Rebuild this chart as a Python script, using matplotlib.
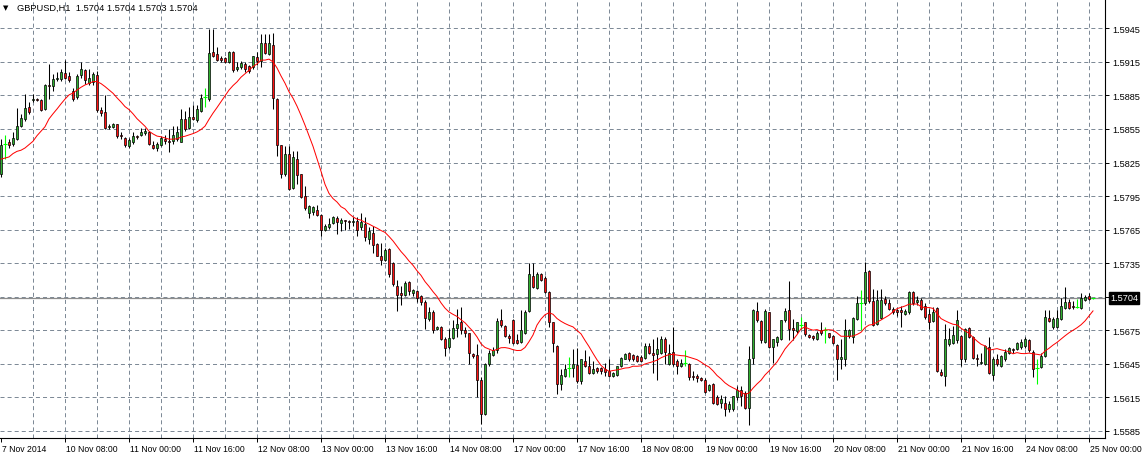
import numpy as np
import pandas as pd
import matplotlib
matplotlib.use('Agg')
import matplotlib.pyplot as plt
import matplotlib.transforms as mtransforms

plt.rcParams['font.family'] = ['Liberation Sans', 'DejaVu Sans']
plt.rcParams['lines.scale_dashes'] = False

# GBPUSD H1, 7 Nov 2014 16:00 .. 25 Nov 2014 01:00
opens = [
    1.5815, 1.5842, 1.5843, 1.5842, 1.5846, 1.5858, 1.5864, 1.5875, 1.5881, 1.5882,
    1.5881, 1.5873, 1.5894, 1.5893, 1.5900, 1.5900, 1.5905, 1.5902, 1.5889, 1.5884,
    1.5903, 1.5908, 1.5896, 1.5897, 1.5903, 1.5872, 1.5870, 1.5857, 1.5857, 1.5859,
    1.5850, 1.5847, 1.5840, 1.5843, 1.5849, 1.5850, 1.5851, 1.5852, 1.5841, 1.5838,
    1.5841, 1.5846, 1.5844, 1.5844, 1.5846, 1.5843, 1.5864, 1.5856, 1.5866, 1.5863,
    1.5871, 1.5884, 1.5882, 1.5924, 1.5922, 1.5918, 1.5918, 1.5915, 1.5924, 1.5909,
    1.5910, 1.5913, 1.5911, 1.5910, 1.5919, 1.5916, 1.5932, 1.5922, 1.5930, 1.5882,
    1.5841, 1.5815, 1.5833, 1.5802, 1.5828, 1.5815, 1.5795, 1.5780, 1.5781, 1.5783,
    1.5778, 1.5765, 1.5767, 1.5771, 1.5775, 1.5771, 1.5774, 1.5773, 1.5772, 1.5773,
    1.5767, 1.5770, 1.5757, 1.5762, 1.5752, 1.5741, 1.5738, 1.5748, 1.5735, 1.5715,
    1.5708, 1.5707, 1.5718, 1.5708, 1.5710, 1.5706, 1.5700, 1.5685, 1.5691, 1.5676,
    1.5678, 1.5667, 1.5660, 1.5668, 1.5677, 1.5682, 1.5675, 1.5673, 1.5654, 1.5653,
    1.5631, 1.5600, 1.5645, 1.5653, 1.5657, 1.5684, 1.5679, 1.5670, 1.5684, 1.5666,
    1.5665, 1.5673, 1.5692, 1.5724, 1.5713, 1.5725, 1.5722, 1.5709, 1.5682, 1.5661,
    1.5627, 1.5634, 1.5641, 1.5641, 1.5644, 1.5630, 1.5648, 1.5643, 1.5637, 1.5641,
    1.5641, 1.5640, 1.5639, 1.5634, 1.5635, 1.5643, 1.5649, 1.5655, 1.5653, 1.5652,
    1.5651, 1.5650, 1.5661, 1.5655, 1.5654, 1.5655, 1.5667, 1.5645, 1.5656, 1.5648,
    1.5643, 1.5646, 1.5645, 1.5634, 1.5634, 1.5632, 1.5631, 1.5622, 1.5627, 1.5615,
    1.5610, 1.5610, 1.5605, 1.5605, 1.5615, 1.5622, 1.5619, 1.5606, 1.5650, 1.5692,
    1.5683, 1.5665, 1.5691, 1.5660, 1.5665, 1.5667, 1.5684, 1.5693, 1.5677, 1.5674,
    1.5680, 1.5682, 1.5671, 1.5670, 1.5667, 1.5675, 1.5675, 1.5673, 1.5670, 1.5662,
    1.5649, 1.5649, 1.5670, 1.5669, 1.5685, 1.5699, 1.5699, 1.5728, 1.5701, 1.5681,
    1.5686, 1.5703, 1.5699, 1.5694, 1.5693, 1.5693, 1.5690, 1.5691, 1.5709, 1.5700,
    1.5702, 1.5697, 1.5690, 1.5683, 1.5695, 1.5638, 1.5634, 1.5663, 1.5664, 1.5666,
    1.5670, 1.5649, 1.5677, 1.5669, 1.5650, 1.5646, 1.5645, 1.5660, 1.5635, 1.5649,
    1.5643, 1.5649, 1.5655, 1.5658, 1.5658, 1.5660, 1.5661, 1.5666, 1.5656, 1.5641,
    1.5642, 1.5652, 1.5686, 1.5678, 1.5678, 1.5685, 1.5695, 1.5700, 1.5697, 1.5696,
    1.5695, 1.5702, 1.5706, 1.5704,
]
highs = [
    1.5846, 1.5850, 1.5846, 1.5852, 1.5874, 1.5868, 1.5886, 1.5879, 1.5886, 1.5883,
    1.5882, 1.5895, 1.5913, 1.5904, 1.5906, 1.5909, 1.5917, 1.5906, 1.5892, 1.5904,
    1.5915, 1.5909, 1.5909, 1.5906, 1.5907, 1.5875, 1.5885, 1.5859, 1.5860, 1.5859,
    1.5852, 1.5848, 1.5847, 1.5852, 1.5850, 1.5856, 1.5856, 1.5853, 1.5844, 1.5843,
    1.5849, 1.5850, 1.5855, 1.5858, 1.5858, 1.5873, 1.5871, 1.5875, 1.5876, 1.5876,
    1.5886, 1.5892, 1.5944, 1.5944, 1.5928, 1.5920, 1.5919, 1.5925, 1.5925, 1.5915,
    1.5916, 1.5915, 1.5912, 1.5920, 1.5924, 1.5940, 1.5940, 1.5940, 1.5941, 1.5883,
    1.5841, 1.5840, 1.5840, 1.5835, 1.5835, 1.5815, 1.5804, 1.5787, 1.5786, 1.5787,
    1.5779, 1.5770, 1.5775, 1.5777, 1.5777, 1.5775, 1.5774, 1.5774, 1.5776, 1.5776,
    1.5780, 1.5776, 1.5767, 1.5768, 1.5753, 1.5753, 1.5749, 1.5749, 1.5736, 1.5720,
    1.5715, 1.5719, 1.5719, 1.5712, 1.5711, 1.5707, 1.5702, 1.5696, 1.5693, 1.5679,
    1.5679, 1.5669, 1.5676, 1.5684, 1.5694, 1.5696, 1.5678, 1.5673, 1.5655, 1.5663,
    1.5633, 1.5646, 1.5657, 1.5660, 1.5686, 1.5694, 1.5680, 1.5672, 1.5685, 1.5672,
    1.5693, 1.5693, 1.5735, 1.5735, 1.5727, 1.5726, 1.5724, 1.5710, 1.5682, 1.5662,
    1.5640, 1.5645, 1.5651, 1.5658, 1.5659, 1.5649, 1.5657, 1.5652, 1.5648, 1.5642,
    1.5642, 1.5646, 1.5649, 1.5638, 1.5643, 1.5651, 1.5655, 1.5656, 1.5654, 1.5653,
    1.5653, 1.5664, 1.5664, 1.5667, 1.5669, 1.5670, 1.5669, 1.5663, 1.5678, 1.5649,
    1.5649, 1.5657, 1.5646, 1.5639, 1.5636, 1.5633, 1.5632, 1.5627, 1.5628, 1.5617,
    1.5617, 1.5616, 1.5612, 1.5616, 1.5625, 1.5625, 1.5621, 1.5661, 1.5694, 1.5700,
    1.5684, 1.5694, 1.5691, 1.5667, 1.5670, 1.5684, 1.5695, 1.5719, 1.5685, 1.5682,
    1.5687, 1.5682, 1.5672, 1.5671, 1.5674, 1.5682, 1.5678, 1.5673, 1.5671, 1.5663,
    1.5667, 1.5685, 1.5676, 1.5687, 1.5706, 1.5711, 1.5736, 1.5729, 1.5712, 1.5711,
    1.5712, 1.5706, 1.5703, 1.5696, 1.5694, 1.5697, 1.5694, 1.5710, 1.5710, 1.5706,
    1.5704, 1.5699, 1.5694, 1.5696, 1.5696, 1.5640, 1.5681, 1.5677, 1.5679, 1.5693,
    1.5671, 1.5677, 1.5678, 1.5670, 1.5654, 1.5655, 1.5662, 1.5669, 1.5651, 1.5654,
    1.5653, 1.5658, 1.5660, 1.5659, 1.5665, 1.5667, 1.5669, 1.5667, 1.5657, 1.5649,
    1.5655, 1.5693, 1.5693, 1.5687, 1.5693, 1.5704, 1.5714, 1.5703, 1.5701, 1.5703,
    1.5708, 1.5707, 1.5708, 1.5704,
]
lows = [
    1.5812, 1.5828, 1.5838, 1.5840, 1.5845, 1.5857, 1.5862, 1.5868, 1.5879, 1.5880,
    1.5871, 1.5872, 1.5882, 1.5889, 1.5898, 1.5898, 1.5900, 1.5897, 1.5880, 1.5882,
    1.5901, 1.5895, 1.5894, 1.5894, 1.5870, 1.5867, 1.5855, 1.5855, 1.5856, 1.5847,
    1.5846, 1.5839, 1.5838, 1.5842, 1.5846, 1.5849, 1.5850, 1.5841, 1.5837, 1.5835,
    1.5840, 1.5842, 1.5834, 1.5842, 1.5844, 1.5843, 1.5853, 1.5855, 1.5863, 1.5861,
    1.5870, 1.5875, 1.5880, 1.5919, 1.5916, 1.5915, 1.5914, 1.5914, 1.5906, 1.5907,
    1.5909, 1.5906, 1.5905, 1.5909, 1.5912, 1.5910, 1.5922, 1.5921, 1.5873, 1.5831,
    1.5811, 1.5813, 1.5800, 1.5801, 1.5806, 1.5793, 1.5783, 1.5775, 1.5778, 1.5777,
    1.5759, 1.5764, 1.5766, 1.5770, 1.5761, 1.5764, 1.5765, 1.5766, 1.5768, 1.5759,
    1.5765, 1.5755, 1.5752, 1.5744, 1.5741, 1.5733, 1.5737, 1.5723, 1.5715, 1.5692,
    1.5698, 1.5706, 1.5707, 1.5706, 1.5700, 1.5698, 1.5676, 1.5683, 1.5673, 1.5675,
    1.5666, 1.5652, 1.5658, 1.5667, 1.5669, 1.5672, 1.5669, 1.5645, 1.5650, 1.5615,
    1.5591, 1.5599, 1.5643, 1.5652, 1.5655, 1.5678, 1.5669, 1.5664, 1.5663, 1.5663,
    1.5664, 1.5672, 1.5691, 1.5713, 1.5712, 1.5719, 1.5708, 1.5678, 1.5656, 1.5618,
    1.5622, 1.5633, 1.5633, 1.5633, 1.5628, 1.5627, 1.5642, 1.5636, 1.5636, 1.5637,
    1.5636, 1.5634, 1.5633, 1.5633, 1.5634, 1.5642, 1.5649, 1.5648, 1.5648, 1.5647,
    1.5647, 1.5649, 1.5654, 1.5637, 1.5631, 1.5654, 1.5645, 1.5644, 1.5643, 1.5636,
    1.5642, 1.5643, 1.5631, 1.5631, 1.5629, 1.5630, 1.5619, 1.5621, 1.5609, 1.5608,
    1.5606, 1.5598, 1.5602, 1.5603, 1.5613, 1.5607, 1.5605, 1.5590, 1.5645, 1.5682,
    1.5664, 1.5664, 1.5659, 1.5646, 1.5661, 1.5666, 1.5682, 1.5666, 1.5666, 1.5673,
    1.5676, 1.5670, 1.5668, 1.5666, 1.5666, 1.5671, 1.5664, 1.5668, 1.5663, 1.5631,
    1.5640, 1.5643, 1.5668, 1.5664, 1.5684, 1.5675, 1.5698, 1.5699, 1.5679, 1.5680,
    1.5685, 1.5698, 1.5693, 1.5690, 1.5688, 1.5678, 1.5689, 1.5690, 1.5698, 1.5698,
    1.5693, 1.5685, 1.5676, 1.5682, 1.5638, 1.5634, 1.5625, 1.5661, 1.5663, 1.5664,
    1.5643, 1.5647, 1.5668, 1.5649, 1.5643, 1.5645, 1.5644, 1.5636, 1.5631, 1.5643,
    1.5642, 1.5648, 1.5654, 1.5655, 1.5657, 1.5658, 1.5659, 1.5656, 1.5633, 1.5627,
    1.5641, 1.5651, 1.5682, 1.5676, 1.5677, 1.5684, 1.5694, 1.5694, 1.5694, 1.5695,
    1.5694, 1.5701, 1.5702, 1.5703,
]
closes = [
    1.5841, 1.5842, 1.5841, 1.5847, 1.5858, 1.5865, 1.5874, 1.5870, 1.5882, 1.5881,
    1.5872, 1.5894, 1.5893, 1.5900, 1.5901, 1.5906, 1.5901, 1.5899, 1.5882, 1.5902,
    1.5909, 1.5899, 1.5901, 1.5904, 1.5872, 1.5869, 1.5856, 1.5858, 1.5859, 1.5849,
    1.5849, 1.5841, 1.5845, 1.5849, 1.5848, 1.5852, 1.5853, 1.5842, 1.5838, 1.5842,
    1.5847, 1.5844, 1.5843, 1.5850, 1.5852, 1.5864, 1.5855, 1.5866, 1.5864, 1.5873,
    1.5883, 1.5884, 1.5923, 1.5920, 1.5917, 1.5917, 1.5915, 1.5924, 1.5908, 1.5910,
    1.5914, 1.5909, 1.5907, 1.5920, 1.5916, 1.5932, 1.5923, 1.5932, 1.5883, 1.5841,
    1.5815, 1.5833, 1.5801, 1.5830, 1.5814, 1.5794, 1.5784, 1.5786, 1.5785, 1.5778,
    1.5765, 1.5768, 1.5770, 1.5776, 1.5772, 1.5774, 1.5773, 1.5772, 1.5773, 1.5765,
    1.5772, 1.5758, 1.5764, 1.5751, 1.5741, 1.5738, 1.5747, 1.5725, 1.5716, 1.5707,
    1.5707, 1.5717, 1.5710, 1.5711, 1.5704, 1.5700, 1.5686, 1.5691, 1.5675, 1.5678,
    1.5667, 1.5659, 1.5668, 1.5677, 1.5681, 1.5675, 1.5673, 1.5655, 1.5652, 1.5631,
    1.5600, 1.5645, 1.5655, 1.5657, 1.5683, 1.5680, 1.5670, 1.5668, 1.5664, 1.5664,
    1.5675, 1.5691, 1.5725, 1.5714, 1.5725, 1.5720, 1.5709, 1.5682, 1.5664, 1.5627,
    1.5635, 1.5640, 1.5641, 1.5645, 1.5630, 1.5649, 1.5643, 1.5637, 1.5640, 1.5639,
    1.5639, 1.5638, 1.5634, 1.5637, 1.5643, 1.5650, 1.5654, 1.5649, 1.5649, 1.5648,
    1.5648, 1.5661, 1.5655, 1.5653, 1.5658, 1.5667, 1.5656, 1.5655, 1.5645, 1.5643,
    1.5646, 1.5646, 1.5633, 1.5633, 1.5632, 1.5631, 1.5620, 1.5626, 1.5610, 1.5609,
    1.5614, 1.5605, 1.5609, 1.5616, 1.5622, 1.5616, 1.5606, 1.5649, 1.5693, 1.5684,
    1.5666, 1.5692, 1.5660, 1.5667, 1.5669, 1.5684, 1.5692, 1.5676, 1.5675, 1.5682,
    1.5680, 1.5672, 1.5669, 1.5668, 1.5673, 1.5673, 1.5675, 1.5669, 1.5664, 1.5649,
    1.5651, 1.5675, 1.5675, 1.5686, 1.5699, 1.5699, 1.5727, 1.5701, 1.5680, 1.5702,
    1.5702, 1.5699, 1.5694, 1.5691, 1.5691, 1.5691, 1.5692, 1.5709, 1.5699, 1.5702,
    1.5694, 1.5687, 1.5682, 1.5691, 1.5639, 1.5635, 1.5667, 1.5667, 1.5671, 1.5684,
    1.5649, 1.5676, 1.5669, 1.5650, 1.5649, 1.5647, 1.5661, 1.5637, 1.5649, 1.5645,
    1.5652, 1.5656, 1.5659, 1.5657, 1.5664, 1.5665, 1.5667, 1.5657, 1.5640, 1.5641,
    1.5652, 1.5687, 1.5683, 1.5685, 1.5686, 1.5697, 1.5700, 1.5695, 1.5696, 1.5696,
    1.5704, 1.5705, 1.5703, 1.5704,
]

# moving average values on the first bars (its window starts before the chart)
ma_head = [1.5828, 1.5829, 1.5830, 1.5833, 1.5835, 1.5836, 1.5838,
           1.5841, 1.5844, 1.5849, 1.5853, 1.5857, 1.5864]
ma_period = 14

time_labels = ['7 Nov 2014', '10 Nov 08:00', '11 Nov 00:00', '11 Nov 16:00',
               '12 Nov 08:00', '13 Nov 00:00', '13 Nov 16:00', '14 Nov 08:00',
               '17 Nov 00:00', '17 Nov 16:00', '18 Nov 08:00', '19 Nov 00:00',
               '19 Nov 16:00', '20 Nov 08:00', '21 Nov 00:00', '21 Nov 16:00',
               '24 Nov 08:00', '25 Nov 00:00']
price_labels = ['1.5585', '1.5615', '1.5645', '1.5675', '1.5705', '1.5735',
                '1.5765', '1.5795', '1.5825', '1.5855', '1.5885', '1.5915', '1.5945']
last_price = 1.5704
title = 'GBPUSD,H1  1.5704 1.5704 1.5703 1.5704'


o = np.array(opens)
h = np.array(highs)
l = np.array(lows)
c = np.array(closes)
x = np.arange(len(c))

ma = pd.Series(c).rolling(ma_period).mean().values
ma[:len(ma_head)] = ma_head

W, H = 1147, 460
fig = plt.figure(figsize=(W / 100, H / 100), dpi=100)
ax = fig.add_axes([0, 21 / H, 1105 / W, 439 / H])
ax.set_xlim(-0.25, 276)
ax.set_ylim(1.557874, 1.597119)

grid_col = '#7a8794'
dash = (0, (2.9, 2.2))
levels = [float(s) for s in price_labels]
ax.hlines(levels, 0, 1, transform=ax.get_yaxis_transform(),
          colors=grid_col, lw=0.7, linestyles=dash, zorder=0)
ax.vlines(np.arange(8, len(c), 8), 0, 1, transform=ax.get_xaxis_transform(),
          colors=grid_col, lw=0.7, linestyles=dash, zorder=0)

ax.axhline(last_price, color='#8c8c8c', lw=0.9, zorder=1)

doji = o == c
up = (c > o)
down = (c < o)

ax.vlines(x[~doji], l[~doji], h[~doji], colors='black', lw=0.75, zorder=2)
ax.bar(x[up], (c - o)[up], bottom=o[up], width=0.72, color='#2fb02f',
       edgecolor='black', linewidth=0.5, zorder=3)
ax.bar(x[down], (o - c)[down], bottom=c[down], width=0.72, color='#ff1010',
       edgecolor='black', linewidth=0.5, zorder=3)
ax.vlines(x[doji], l[doji], h[doji], colors='#00ff00', lw=0.8, zorder=3)
ax.hlines(o[doji], x[doji] - 0.45, x[doji] + 0.45, colors='#00ff00', lw=0.8, zorder=3)

ax.plot(x, ma, color='#ff0000', lw=0.72, zorder=4)

# axes, ticks
for s in ['top', 'left']:
    ax.spines[s].set_visible(False)
for s in ['right', 'bottom']:
    ax.spines[s].set_color('black')
    ax.spines[s].set_linewidth(0.8)

ax.yaxis.tick_right()
ax.set_yticks(levels)
ax.set_yticklabels([s if s != '1.5705' else '' for s in price_labels])
ax.tick_params(axis='y', direction='out', length=3, width=0.7, pad=2.5,
               labelsize=6.6, colors='black')

ax.set_xticks(np.arange(0, len(c), 16))
ax.set_xticklabels(time_labels)
ax.tick_params(axis='x', direction='out', length=3, width=0.7, pad=1.5,
               labelsize=6.2, colors='black')
shift = mtransforms.ScaledTranslation(1.5 / 100, 0, fig.dpi_scale_trans)
for lbl in ax.get_xticklabels():
    lbl.set_horizontalalignment('left')
    lbl.set_transform(lbl.get_transform() + shift)

ax.annotate('%.4f' % last_price, xy=(1, last_price), xycoords=ax.get_yaxis_transform(),
            xytext=(3.6, 0), textcoords='offset points', ha='left', va='center',
            color='white', fontsize=6.6, annotation_clip=False,
            bbox=dict(boxstyle='square,pad=0.15', fc='black', ec='black'))

fig.text(3 / W, 1 - 8 / H, '\u25bc', fontsize=5, family='DejaVu Sans', va='center')
fig.text(17 / W, 1 - 8 / H, title, fontsize=6.7, va='center')

fig.savefig('out.png', dpi=100)
